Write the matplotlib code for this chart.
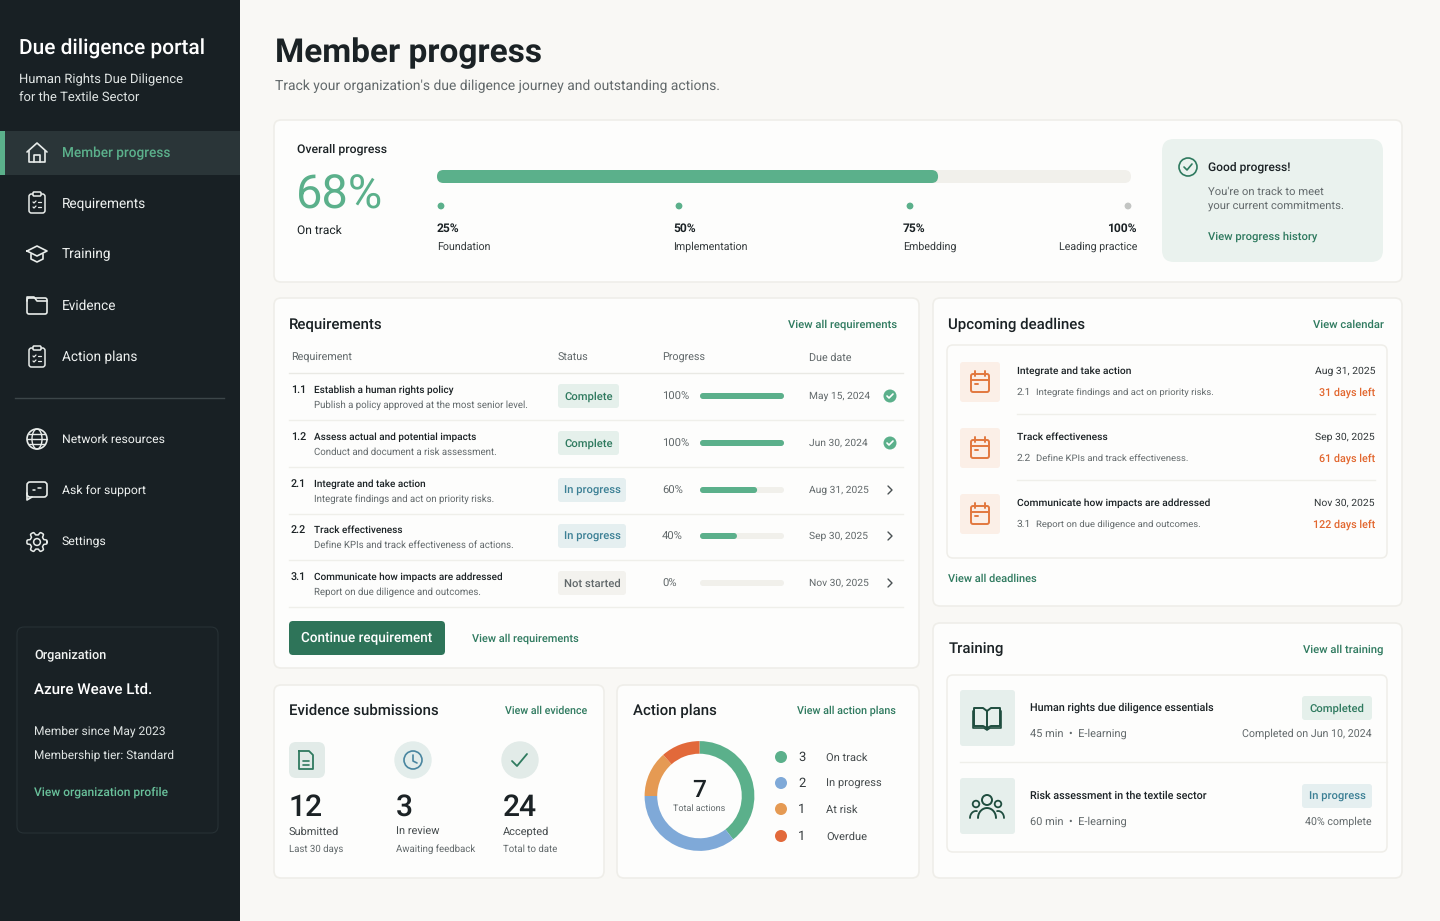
import numpy as np
import matplotlib
matplotlib.use('Agg')
from matplotlib import pyplot as plt
from matplotlib.patches import FancyBboxPatch, Circle, Rectangle, Arc

plt.rcParams['font.family'] = ['Roboto', 'DejaVu Sans']
plt.rcParams['text.hinting'] = 'no_hinting'
plt.rcParams['text.hinting_factor'] = 8

# colours
SIDE = '#182024'
BG = '#f9f8f5'
CARD = '#fdfdfc'
EDGE = '#efeee9'
GREEN = '#5bb08b'
DGREEN = '#2f7a5f'
INK = '#1b2225'
GREY = '#62696b'
ORANGE = '#e2672f'
TRACK = '#f1f0eb'

# sidebar
nav_main = ['Member progress', 'Requirements', 'Training', 'Evidence', 'Action plans']
nav_main_y = [153, 203, 254, 305, 357]
nav_extra = ['Network resources', 'Ask for support', 'Settings']
nav_extra_y = [439, 490, 542]

# overall progress
overall_pct = '68%'
overall_fill = 72.2
milestone_pct = ['25%', '50%', '75%', '100%']
milestone_name = ['Foundation', 'Implementation', 'Embedding', 'Leading practice']

# requirements table
req_ids = ['1.1', '1.2', '2.1', '2.2', '3.1']
req_titles = ['Establish a human rights policy', 'Assess actual and potential impacts',
              'Integrate and take action', 'Track effectiveness',
              'Communicate how impacts are addressed']
req_desc = ['Publish a policy approved at the most senior level.',
            'Conduct and document a risk assessment.',
            'Integrate findings and act on priority risks.',
            'Define KPIs and track effectiveness of actions.',
            'Report on due diligence and outcomes.']
req_status = ['Complete', 'Complete', 'In progress', 'In progress', 'Not started']
req_pct = [100, 100, 60, 40, 0]
req_fill = [100, 100, 68, 44, 0]
req_due = ['May 15, 2024', 'Jun 30, 2024', 'Aug 31, 2025', 'Sep 30, 2025', 'Nov 30, 2025']

# deadlines
dl_titles = ['Integrate and take action', 'Track effectiveness',
             'Communicate how impacts are addressed']
dl_ids = ['2.1', '2.2', '3.1']
dl_desc = ['Integrate findings and act on priority risks.',
           'Define KPIs and track effectiveness.',
           'Report on due diligence and outcomes.']
dl_dates = ['Aug 31, 2025', 'Sep 30, 2025', 'Nov 30, 2025']
dl_left = ['31 days left', '61 days left', '122 days left']

# evidence
ev_counts = ['12', '3', '24']
ev_labels = ['Submitted', 'In review', 'Accepted']
ev_notes = ['Last 30 days', 'Awaiting feedback', 'Total to date']

# action plans
ap_counts = [3, 2, 1, 1]
ap_labels = ['On track', 'In progress', 'At risk', 'Overdue']
ap_shares = [39.5, 35.5, 13.5, 11.5]
ap_colors = ['#5bb08b', '#7fa9d8', '#e59a53', '#e2693a']

# training
tr_titles = ['Human rights due diligence essentials', 'Risk assessment in the textile sector']
tr_meta = ['45 min  \u2022  E-learning', '60 min  \u2022  E-learning']
tr_status = ['Completed', 'In progress']
tr_notes = ['Completed on Jun 10, 2024', '40% complete']

fig = plt.figure(figsize=(14.4, 9.21), dpi=100, facecolor=BG)
ax = fig.add_axes([0, 0, 1, 1])
ax.set_xlim(0, 1440)
ax.set_ylim(921, 0)
ax.axis('off')


def text(x, y, s, px=12, color=INK, weight='normal', ha='left'):
    ax.text(x, y - 0.7, s, fontsize=px * 0.72, color=color, fontweight=weight, ha=ha, va='center_baseline')


def box(x0, y0, x1, y1, r=4, fc=CARD, ec='none', lw=1):
    ax.add_patch(FancyBboxPatch((x0, y0), x1 - x0, y1 - y0, boxstyle=f'round,pad=0,rounding_size={r}',
                                fc=fc, ec=ec, lw=lw))


def stroke(cx, cy, pts, color, lw=1.2):
    pts = np.array(pts, dtype=float)
    ax.plot(cx + pts[:, 0], cy + pts[:, 1], color=color, lw=lw, solid_capstyle='round',
            solid_joinstyle='round')


def bar(x0, x1, y0, y1, fc):
    box(x0, y0, x1, y1, r=(y1 - y0) / 2, fc=fc)


def ring(cx, cy, r, color, lw=1.2, fc='none'):
    ax.add_patch(Circle((cx, cy), r, fc=fc, ec=color, lw=lw))


def clipboard_icon(cx, cy, c):
    box(cx - 8, cy - 9, cx + 8, cy + 10, r=2.5, fc='none', ec=c, lw=1.1)
    box(cx - 4, cy - 11, cx + 4, cy - 7, r=1, fc=SIDE, ec=c, lw=1.1)
    stroke(cx, cy, [(-4, -1), (-3, 0), (-1, -2)], c, 0.9)
    stroke(cx, cy, [(1, -1), (4, -1)], c, 0.9)
    stroke(cx, cy, [(-4, 4), (-3, 5), (-1, 3)], c, 0.9)
    stroke(cx, cy, [(1, 4), (4, 4)], c, 0.9)


def calendar_icon(cx, cy, c):
    box(cx - 9, cy - 8, cx + 9, cy + 10, r=2, fc='none', ec=c, lw=1.4)
    stroke(cx, cy, [(-9, -2), (9, -2)], c, 1.4)
    stroke(cx, cy, [(-5, -11), (-5, -6)], c, 1.4)
    stroke(cx, cy, [(5, -11), (5, -6)], c, 1.4)
    stroke(cx, cy, [(-5, 2), (-2, 2)], c, 1.4)


def badge(x0, x1, yc, s, fc, tc):
    box(x0, yc - 12, x1, yc + 12, r=3, fc=fc)
    text((x0 + x1) / 2, yc, s, 11.3, tc, 'medium', 'center')


# sidebar
ax.add_patch(Rectangle((0, 0), 240, 921, fc=SIDE, ec='none'))
ax.add_patch(Rectangle((0, 131), 240, 44, fc='#2a3538', ec='none'))
ax.add_patch(Rectangle((0, 131), 5, 44, fc=GREEN, ec='none'))
text(19, 47, 'Due diligence portal', 20.9, '#ffffff', 'medium')
text(19, 79, 'Human Rights Due Diligence', 13, '#dfe4e3')
text(19, 98, 'for the Textile Sector', 13, '#dfe4e3')

for i in range(len(nav_main)):
    text(62, nav_main_y[i], nav_main[i], 13.6, GREEN if i == 0 else '#eef1f0', 'medium' if i == 0 else 'normal')
for i in range(len(nav_extra)):
    text(62, nav_extra_y[i], nav_extra[i], 12.3, '#eef1f0')

W = '#e8ecea'
stroke(37, 152, [(-10, 0), (0, -9), (10, 0)], W, 1.2)
stroke(37, 152, [(-8, -1), (-8, 10), (8, 10), (8, -1)], W, 1.2)
stroke(37, 152, [(-3, 10), (-3, 3), (3, 3), (3, 10)], W, 1.2)
clipboard_icon(37, 203, W)
stroke(37, 254, [(-10, -3), (0, -8), (10, -3), (0, 2), (-10, -3)], W, 1.2)
stroke(37, 254, [(-6, 0), (-6, 5), (0, 8), (6, 5), (6, 0)], W, 1.2)
box(27, 298, 47, 314, r=2, fc='none', ec=W, lw=1.2)
stroke(37, 305, [(-10, -4), (-10, -8), (-3, -8), (0, -4), (10, -4)], W, 1.2)
clipboard_icon(37, 357, W)
ring(37, 439, 10, W, 1.2)
ax.add_patch(Arc((37, 439), 10, 20, ec=W, lw=1))
stroke(37, 439, [(-10, 0), (10, 0)], W, 1)
stroke(37, 439, [(-8, -5), (8, -5)], W, 1)
stroke(37, 439, [(-8, 5), (8, 5)], W, 1)
box(27, 482, 47, 497, r=3, fc='none', ec=W, lw=1.2)
stroke(37, 490, [(-10, 3), (-10, 10), (-5, 7)], W, 1.2)
stroke(37, 490, [(-4, 0), (-2, 0)], W, 1.1)
stroke(37, 490, [(1, -2), (4, -2)], W, 1.1)
ang = np.linspace(0, 2 * np.pi, 97)
gear_r = 8.6 + 1.5 * np.clip(2.2 * np.cos(6 * ang), -1, 1)
stroke(37, 542, np.c_[gear_r * np.cos(ang), gear_r * np.sin(ang)], W, 1.1)
ring(37, 542, 3.4, W, 1.1)

ax.plot([15, 224], [398, 398], color='#3c4649', lw=1)
box(17, 627, 218, 833, r=7, fc='#192125', ec='#273135', lw=0.8)
text(34, 655, 'Organization', 12.6, '#f0f2f1', 'medium')
text(34, 689, 'Azure Weave Ltd.', 15.15, '#ffffff', 'medium')
text(34, 731, 'Member since May 2023', 12.05, '#dfe4e3')
text(34, 755, 'Membership tier: Standard', 11.95, '#dfe4e3')
text(34, 792, 'View organization profile', 12.05, '#69c19b', 'medium')

# header
text(275, 50, 'Member progress', 33.4, INK, 'bold')
text(275, 85, "Track your organization's due diligence journey and outstanding actions.", 13.85, GREY)

# cards
for c in [(274, 120, 1402, 282), (274, 298, 919, 668), (933, 298, 1402, 606),
          (933, 623, 1402, 878), (274, 685, 604, 878), (617, 685, 919, 878)]:
    box(*c, r=7, fc=CARD, ec=EDGE, lw=1.2)

# overall card
text(297, 149, 'Overall progress', 12.2, INK, 'medium')
text(296, 192, overall_pct, 47, GREEN)
text(297, 230, 'On track', 12, INK)
bar(437, 1131, 170, 183, TRACK)
bar(437, 437 + 694 * overall_fill / 100, 170, 183, GREEN)
ms_dot_x = [441, 679, 910, 1128]
ms_text_x = [437, 673, 903, 1137]
for i in range(4):
    ax.add_patch(Circle((ms_dot_x[i], 206), 3.4, fc=GREEN if i < 3 else '#c3c5c3', ec='none'))
    ha = 'left' if i < 3 else 'right'
    text(ms_text_x[i], 228, milestone_pct[i], 12, INK, 'bold', ha)
    text(ms_text_x[i], 246, milestone_name[i], 10.65, '#33393b', 'normal', ha)

box(1162, 139, 1383, 262, r=12, fc='#eaf2ee')
ring(1188, 167, 9, DGREEN, 1.2)
stroke(1188, 167, [(-4, 0), (-1, 3), (4, -3)], DGREEN, 1.2)
text(1208, 167, 'Good progress!', 12, INK, 'medium')
text(1208, 191, "You're on track to meet", 11.2, GREY)
text(1208, 206, 'your current commitments.', 11.2, GREY)
text(1208, 236, 'View progress history', 11.2, DGREEN, 'medium')

# requirements card
text(289, 324, 'Requirements', 15, INK, 'medium')
text(897, 324, 'View all requirements', 11.2, DGREEN, 'medium', 'right')
for x, s in zip([291, 558, 662, 809], ['Requirement', 'Status', 'Progress', 'Due date']):
    text(x, 357, s, 10.8, GREY)
ax.plot([289, 903], [373, 373], color='#e9e9e4', lw=1)

row_y = [396, 443, 490, 536, 583]
status_style = {'Complete': ('#e5f0eb', DGREEN, 619), 'In progress': ('#e5eff0', '#3c8095', 626),
                'Not started': ('#f3f2ee', GREY, 626)}
for i in range(5):
    y = row_y[i]
    text(291, y - 6, req_ids[i], 10.8, INK, 'medium')
    text(314, y - 6.5, req_titles[i], 10, INK, 'medium')
    text(314, y + 9, req_desc[i], 9.6, GREY)
    fc, tc, x1 = status_style[req_status[i]]
    badge(558, x1, y, req_status[i], fc, tc)
    text(662, y, f'{req_pct[i]}%', 11.2, GREY)
    bar(700, 784, y - 3, y + 3, TRACK)
    if req_fill[i] > 0:
        bar(700, 700 + 84 * req_fill[i] / 100, y - 3, y + 3, GREEN)
    text(809, y, req_due[i], 10.3, GREY)
    if req_pct[i] == 100:
        ax.add_patch(Circle((890, y), 6.5, fc=GREEN, ec='none'))
        stroke(890, y, [(-3, 0), (-1, 2), (3, -2)], 'white', 1.2)
    else:
        stroke(890, y, [(-2, -4), (2, 0), (-2, 4)], '#4a5153', 1)
    ax.plot([289, 903], [y + 24, y + 24], color='#efefea', lw=1)

box(289, 621, 445, 655, r=4, fc='#2e7459')
text(367, 638, 'Continue requirement', 13.5, 'white', 'medium', 'center')
text(472, 638, 'View all requirements', 11, DGREEN, 'medium')

# deadlines card
text(948, 324, 'Upcoming deadlines', 15, INK, 'medium')
text(1384, 324, 'View calendar', 11.2, DGREEN, 'medium', 'right')
box(947, 345, 1387, 558, r=6, fc=CARD, ec=EDGE, lw=1.1)
dl_y = [382, 448, 514]
for i in range(3):
    y = dl_y[i]
    box(960, y - 20, 1000, y + 20, r=3, fc='#fbefe7')
    calendar_icon(980, y, '#e2783f')
    text(1017, y - 11, dl_titles[i], 10.2, INK, 'medium')
    text(1017, y + 10, dl_ids[i], 10.2, GREY)
    text(1036, y + 10, dl_desc[i], 9.45, GREY)
    text(1375, y - 11, dl_dates[i], 10.4, '#33393b', 'normal', 'right')
    text(1375, y + 10, dl_left[i], 10.7, ORANGE, 'medium', 'right')
    if i < 2:
        ax.plot([1017, 1375], [y + 32, y + 32], color='#efefea', lw=1)
text(948, 578, 'View all deadlines', 11, DGREEN, 'medium')

# training card
text(949, 649, 'Training', 15, INK, 'medium')
text(1383, 649, 'View all training', 11.2, DGREEN, 'medium', 'right')
box(947, 675, 1387, 852, r=6, fc=CARD, ec=EDGE, lw=1.1)
tr_y = [718, 806]
tr_colors = [('#e5f0eb', DGREEN), ('#e5eff0', '#3c8095')]
for i in range(2):
    y = tr_y[i]
    box(960, y - 28, 1015, y + 28, r=3, fc='#e6efec')
    text(1030, y - 11, tr_titles[i], 10.7, INK, 'medium')
    text(1030, y + 15, tr_meta[i], 11, GREY)
    badge(1302, 1372, y - 10, tr_status[i], tr_colors[i][0], tr_colors[i][1])
    text(1372, y + 15, tr_notes[i], 10.6, GREY, 'normal', 'right')
ax.plot([960, 1387], [762, 762], color='#efefea', lw=1)
T = '#1f4d3f'
stroke(987, 718, [(0, -7), (-4, -10), (-13, -10), (-13, 8), (-4, 8), (0, 10), (4, 8), (13, 8), (13, -10), (4, -10), (0, -7), (0, 10)], T, 1.4)
stroke(987, 718, [(-14, -7), (-14, 10), (-3, 10), (0, 12), (3, 10), (14, 10), (14, -7)], T, 1.2)
ring(987, 800, 5, T, 1.4)
ring(976, 804, 3.3, T, 1.3)
ring(998, 804, 3.3, T, 1.3)
a = np.linspace(np.pi, 2 * np.pi, 20)
stroke(987, 818, np.c_[9 * np.cos(a), 10 * np.sin(a)], T, 1.4)
a = np.linspace(np.pi, 1.55 * np.pi, 12)
stroke(976, 818, np.c_[6 * np.cos(a), 7 * np.sin(a)], T, 1.3)
stroke(998, 818, np.c_[-6 * np.cos(a), 7 * np.sin(a)], T, 1.3)

# evidence card
text(289, 710, 'Evidence submissions', 15, INK, 'medium')
text(587, 710, 'View all evidence', 10.6, DGREEN, 'medium', 'right')
ev_x = [289, 396, 503]
box(289, 742, 325, 778, r=7, fc='#e2ebe8')
ring(413, 760, 18, '#e3edeb', 1, '#e3edeb')
ring(520, 760, 18, '#e2ebe8', 1, '#e2ebe8')
stroke(306, 760, [(-7, -9), (3, -9), (7, -5), (7, 9), (-7, 9), (-7, -9)], DGREEN, 1.3)
stroke(306, 760, [(-3, 1), (3, 1)], DGREEN, 1.2)
stroke(306, 760, [(-3, 5), (3, 5)], DGREEN, 1.2)
ring(413, 760, 9, '#4a86a0', 1.2)
stroke(413, 760, [(0, -5), (0, 1), (4, 3)], '#4a86a0', 1.2)
stroke(520, 760, [(-8, 1), (-3, 6), (7, -6)], DGREEN, 1.3)
for i in range(3):
    text(ev_x[i], 805, ev_counts[i], 30, INK, 'medium')
    text(ev_x[i], 831, ev_labels[i], 11, '#454b4d')
    text(ev_x[i], 849, ev_notes[i], 9.65, GREY)

# action plans card
text(633, 710, 'Action plans', 15, INK, 'medium')
text(896, 710, 'View all action plans', 10.8, DGREEN, 'medium', 'right')
ax_d = fig.add_axes([(699.5 - 56) / 1440, 1 - (796 + 56) / 921, 112 / 1440, 112 / 921])
ax_d.pie(ap_shares, colors=ap_colors, startangle=90, counterclock=False, radius=1.0,
         wedgeprops={'width': 0.23, 'linewidth': 0})
ax_d.set_xlim(-1.02, 1.02)
ax_d.set_ylim(-1.02, 1.02)
ax_d.patch.set_alpha(0)
text(699.5, 789, '7', 24.5, INK, 'medium', 'center')
text(699.5, 808, 'Total actions', 9, GREY, 'normal', 'center')
ap_y = [757, 783, 809, 836]
for i in range(4):
    ax.add_patch(Circle((781, ap_y[i]), 6, fc=ap_colors[i], ec='none'))
    text(798, ap_y[i], str(ap_counts[i]), 13, '#33393b')
    text(826, ap_y[i], ap_labels[i], 11.1, '#454b4d')

fig.savefig('out.png', dpi=100, facecolor=BG)
